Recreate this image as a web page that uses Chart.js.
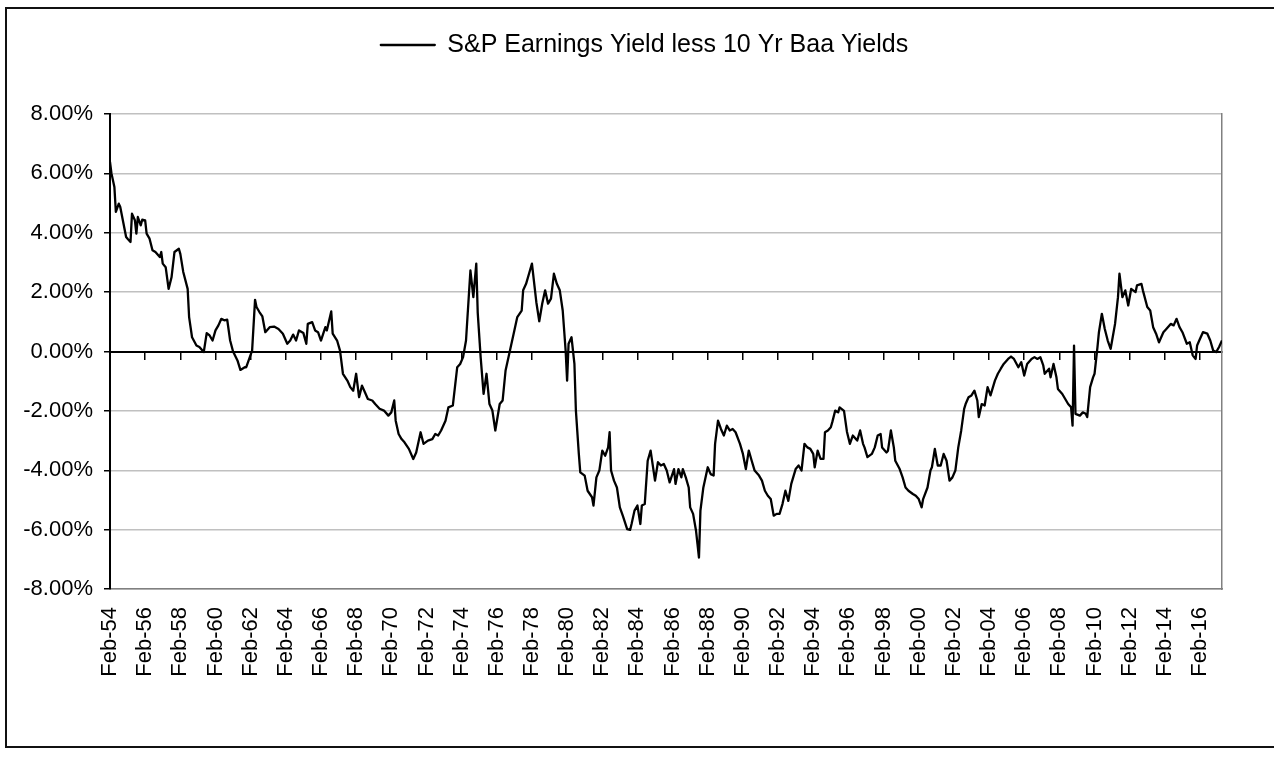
<!DOCTYPE html>
<html>
<head>
<meta charset="utf-8">
<title>S&amp;P Earnings Yield less 10 Yr Baa Yields</title>
<script src="https://cdn.jsdelivr.net/npm/chart.js@4/dist/chart.umd.min.js"></script>
<style>
    html, body { margin: 0; padding: 0; background: #fff; overflow: hidden; }
    #wrap { position: relative; width: 1274px; height: 768px; }
    #frame {
        position: absolute; left: 5px; top: 7px;
        width: 1300px; height: 737px;
        border: 2px solid #111; pointer-events: none;
    }
</style>
</head>
<body>
<div id="wrap">
    <canvas id="chart" width="1274" height="768"></canvas>
    <div id="frame"></div>
</div>
<script>
// Months since Feb-54 → spread (%)
const monthIndex = [
    0, 1, 3, 4, 6, 7, 9, 11, 12, 14,
    15, 17, 18, 19, 21, 22, 24, 25, 27, 29,
    31, 34, 35, 36, 38, 40, 42, 44, 47, 48,
    50, 53, 54, 56, 59, 61, 64, 66, 68, 70,
    72, 74, 76, 78, 80, 82, 84, 87, 89, 92,
    93, 95, 97, 99, 100, 102, 104, 106, 109, 112,
    115, 118, 121, 123, 125, 127, 129, 132, 134, 135,
    138, 140, 142, 144, 147, 148, 151, 152, 155, 157,
    159, 162, 164, 166, 168, 170, 172, 174, 176, 179,
    181, 184, 187, 190, 192, 194, 195, 197, 199, 201,
    204, 207, 209, 212, 214, 217, 220, 222, 224, 226,
    229, 231, 234, 237, 239, 241, 243, 246, 248, 250,
    251, 253, 255, 257, 259, 261, 263, 266, 268, 270,
    273, 276, 278, 281, 282, 284, 286, 288, 291, 293,
    295, 297, 299, 301, 303, 305, 307, 309, 311, 312,
    313, 315, 317, 318, 320, 321, 324, 326, 329, 330,
    332, 334, 336, 338, 340, 341, 342, 344, 346, 348,
    350, 353, 355, 356, 358, 360, 362, 363, 365, 367,
    369, 372, 374, 376, 378, 380, 382, 385, 386, 388,
    390, 391, 393, 395, 396, 398, 400, 401, 402, 403,
    405, 406, 408, 410, 412, 413, 415, 417, 419, 421,
    423, 425, 427, 430, 432, 434, 436, 438, 440, 443,
    445, 447, 449, 451, 453, 455, 457, 459, 461, 463,
    465, 468, 470, 472, 474, 476, 478, 480, 481, 483,
    485, 487, 488, 490, 492, 493, 495, 497, 498, 501,
    503, 505, 507, 510, 512, 514, 515, 517, 520, 522,
    524, 526, 527, 530, 531, 533, 535, 536, 539, 541,
    543, 545, 548, 550, 552, 554, 555, 558, 560, 561,
    563, 565, 567, 569, 571, 573, 575, 577, 579, 581,
    583, 584, 586, 588, 590, 592, 593, 595, 597, 599,
    601, 604, 606, 608, 610, 613, 615, 617, 620, 622,
    624, 626, 629, 631, 633, 635, 637, 638, 641, 642,
    644, 646, 647, 650, 652, 654, 656, 657, 658, 659,
    662, 664, 666, 667, 669, 671, 672, 674, 675, 677,
    679, 681, 683, 684, 686, 688, 689, 691, 693, 695,
    697, 700, 701, 704, 705, 708, 710, 712, 714, 716,
    719, 721, 724, 726, 728, 730, 732, 735, 737, 739,
    741, 742, 744, 746, 749, 751, 753, 755, 757, 759,
];

const spread = [
    6.39, 6.00, 5.54, 4.70, 4.98, 4.87, 4.36, 3.86, 3.80, 3.69,
    4.64, 4.42, 3.97, 4.53, 4.25, 4.44, 4.42, 3.97, 3.80, 3.41,
    3.35, 3.18, 3.35, 2.96, 2.84, 2.11, 2.50, 3.35, 3.46, 3.29,
    2.68, 2.11, 1.16, 0.48, 0.20, 0.15, -0.02, 0.62, 0.54, 0.37,
    0.71, 0.88, 1.10, 1.05, 1.07, 0.37, 0.00, -0.30, -0.62, -0.53,
    -0.53, -0.25, 0.03, 1.74, 1.50, 1.33, 1.18, 0.65, 0.82, 0.84,
    0.76, 0.60, 0.26, 0.37, 0.57, 0.37, 0.71, 0.62, 0.26, 0.93,
    0.99, 0.71, 0.65, 0.37, 0.82, 0.71, 1.35, 0.60, 0.37, 0.03,
    -0.75, -0.98, -1.20, -1.32, -0.75, -1.54, -1.15, -1.37, -1.60, -1.65,
    -1.77, -1.93, -1.99, -2.16, -2.05, -1.65, -2.33, -2.78, -2.95, -3.06,
    -3.28, -3.62, -3.40, -2.72, -3.11, -3.00, -2.95, -2.78, -2.83, -2.66,
    -2.33, -1.88, -1.82, -0.53, -0.42, -0.19, 0.37, 2.73, 1.83, 2.96,
    1.30, -0.20, -1.43, -0.75, -1.77, -1.99, -2.66, -1.77, -1.65, -0.64,
    0.03, 0.71, 1.16, 1.38, 2.06, 2.28, 2.62, 2.96, 1.66, 1.02,
    1.61, 2.06, 1.61, 1.78, 2.62, 2.28, 2.06, 1.38, 0.03, -0.98,
    0.26, 0.48, -0.42, -1.99, -3.45, -4.07, -4.18, -4.69, -4.91, -5.19,
    -4.24, -4.01, -3.34, -3.51, -3.23, -2.72, -4.01, -4.35, -4.58, -5.25,
    -5.53, -5.98, -6.01, -5.81, -5.36, -5.19, -5.81, -5.19, -5.14, -3.68,
    -3.34, -4.35, -3.73, -3.84, -3.79, -4.01, -4.41, -3.96, -4.46, -3.96,
    -4.24, -3.96, -4.24, -4.58, -5.25, -5.47, -6.04, -6.49, -6.94, -5.36,
    -4.58, -4.35, -3.90, -4.13, -4.18, -3.11, -2.33, -2.61, -2.83, -2.50,
    -2.66, -2.61, -2.72, -3.11, -3.45, -3.96, -3.34, -3.68, -4.01, -4.18,
    -4.35, -4.69, -4.86, -4.97, -5.53, -5.47, -5.47, -5.14, -4.69, -5.03,
    -4.46, -3.96, -3.84, -4.01, -3.11, -3.23, -3.28, -3.45, -3.90, -3.34,
    -3.62, -3.62, -2.72, -2.66, -2.55, -2.38, -1.99, -2.05, -1.88, -2.00,
    -2.70, -3.11, -2.83, -3.00, -2.66, -3.11, -3.23, -3.56, -3.45, -3.23,
    -2.83, -2.78, -3.23, -3.40, -3.34, -2.66, -3.23, -3.68, -3.96, -4.24,
    -4.58, -4.69, -4.80, -4.86, -4.97, -5.25, -4.97, -4.58, -4.01, -3.90,
    -3.28, -3.84, -3.84, -3.45, -3.68, -4.35, -4.24, -4.01, -3.23, -2.66,
    -1.93, -1.77, -1.54, -1.48, -1.32, -1.65, -2.21, -1.77, -1.82, -1.20,
    -1.48, -0.98, -0.75, -0.58, -0.42, -0.25, -0.17, -0.25, -0.53, -0.36,
    -0.81, -0.42, -0.25, -0.19, -0.25, -0.19, -0.47, -0.75, -0.58, -0.87,
    -0.42, -0.87, -1.26, -1.43, -1.60, -1.77, -1.88, -2.50, 0.20, -2.10,
    -2.16, -2.05, -2.10, -2.21, -1.20, -0.87, -0.75, 0.15, 0.65, 1.27,
    0.76, 0.37, 0.09, 0.37, 0.93, 1.83, 2.62, 1.83, 2.06, 1.55,
    2.11, 2.00, 2.23, 2.28, 2.06, 1.50, 1.38, 0.82, 0.60, 0.31,
    0.65, 0.76, 0.93, 0.88, 1.10, 0.82, 0.65, 0.26, 0.31, -0.13,
    -0.25, 0.20, 0.43, 0.65, 0.60, 0.37, 0.03, -0.02, 0.15, 0.37,
];

const tickLabels = [
    'Feb-54', 'Feb-56', 'Feb-58', 'Feb-60', 'Feb-62', 'Feb-64', 'Feb-66', 'Feb-68',
    'Feb-70', 'Feb-72', 'Feb-74', 'Feb-76', 'Feb-78', 'Feb-80', 'Feb-82', 'Feb-84',
    'Feb-86', 'Feb-88', 'Feb-90', 'Feb-92', 'Feb-94', 'Feb-96', 'Feb-98', 'Feb-00',
    'Feb-02', 'Feb-04', 'Feb-06', 'Feb-08', 'Feb-10', 'Feb-12', 'Feb-14', 'Feb-16',
];
const tickMonths = tickLabels.map((_, i) => i * 24);   // one label every two years
const LAST_MONTH = 759;

const FONT = "'Liberation Sans', Arial, sans-serif";
Chart.defaults.font.family = FONT;
Chart.defaults.color = '#000';

const useYearTicks = axis => { axis.ticks = tickMonths.map(v => ({ value: v })); };

new Chart(document.getElementById('chart'), {
    type: 'line',
    data: {
        datasets: [{
            label: 'S&P Earnings Yield less 10 Yr Baa Yields',
            data: monthIndex.map((m, i) => ({ x: m, y: spread[i] })),
            borderColor: '#000',
            backgroundColor: '#000',
            borderWidth: 2.3,
            borderJoinStyle: 'round',
            pointRadius: 0,
            tension: 0,
            xAxisID: 'x',
            yAxisID: 'y',
        }],
    },
    options: {
        responsive: false,
        animation: false,
        layout: { padding: { left: 15, top: 20.5, right: 0, bottom: 0 } },
        plugins: {
            legend: {
                position: 'top',
                labels: {
                    color: '#000',
                    font: { size: 25 },
                    boxWidth: 54,
                    boxHeight: 0,
                    padding: 12,
                },
            },
            // empty spacer below the legend
            title: { display: true, text: '', weight: 500, font: { size: 10 }, padding: { top: 34.5, bottom: 0 } },
            tooltip: { enabled: false },
        },
        scales: {
            x: {
                type: 'linear',
                position: 'bottom',
                min: 0,
                max: LAST_MONTH,
                afterBuildTicks: useYearTicks,
                afterFit: s => { s.height = 179; },
                grid: { display: false },
                border: { color: '#808080', width: 1.5 },
                ticks: {
                    autoSkip: false,
                    minRotation: 90,
                    maxRotation: 90,
                    padding: 10,
                    font: { size: 22 },
                    callback: (v, i) => tickLabels[i],
                },
            },
            // zero line with its tick marks
            xZero: {
                type: 'linear',
                position: { y: 0 },
                min: 0,
                max: LAST_MONTH,
                afterBuildTicks: useYearTicks,
                afterFit: s => { s.height = 0; },
                ticks: { display: false },
                grid: { drawOnChartArea: false, drawTicks: true, tickLength: 7, tickColor: '#000', lineWidth: 1.5 },
                border: { color: '#000', width: 2 },
            },
            y: {
                position: 'left',
                min: -8,
                max: 8,
                afterFit: s => { s.width = 95; },
                grid: { color: '#c0c0c0', lineWidth: 1.5, tickColor: '#000', tickLength: 6 },
                border: { color: '#000', width: 2 },
                ticks: {
                    stepSize: 2,
                    padding: 11,
                    font: { size: 22 },
                    callback: v => v.toFixed(2) + '%',
                },
            },
            yRight: {
                position: 'right',
                display: true,
                min: -8,
                max: 8,
                afterFit: s => { s.width = 52; },
                ticks: { display: false },
                grid: { drawOnChartArea: false, drawTicks: false },
                border: { color: '#808080', width: 1.5 },
            },
        },
    },
});
</script>
</body>
</html>
